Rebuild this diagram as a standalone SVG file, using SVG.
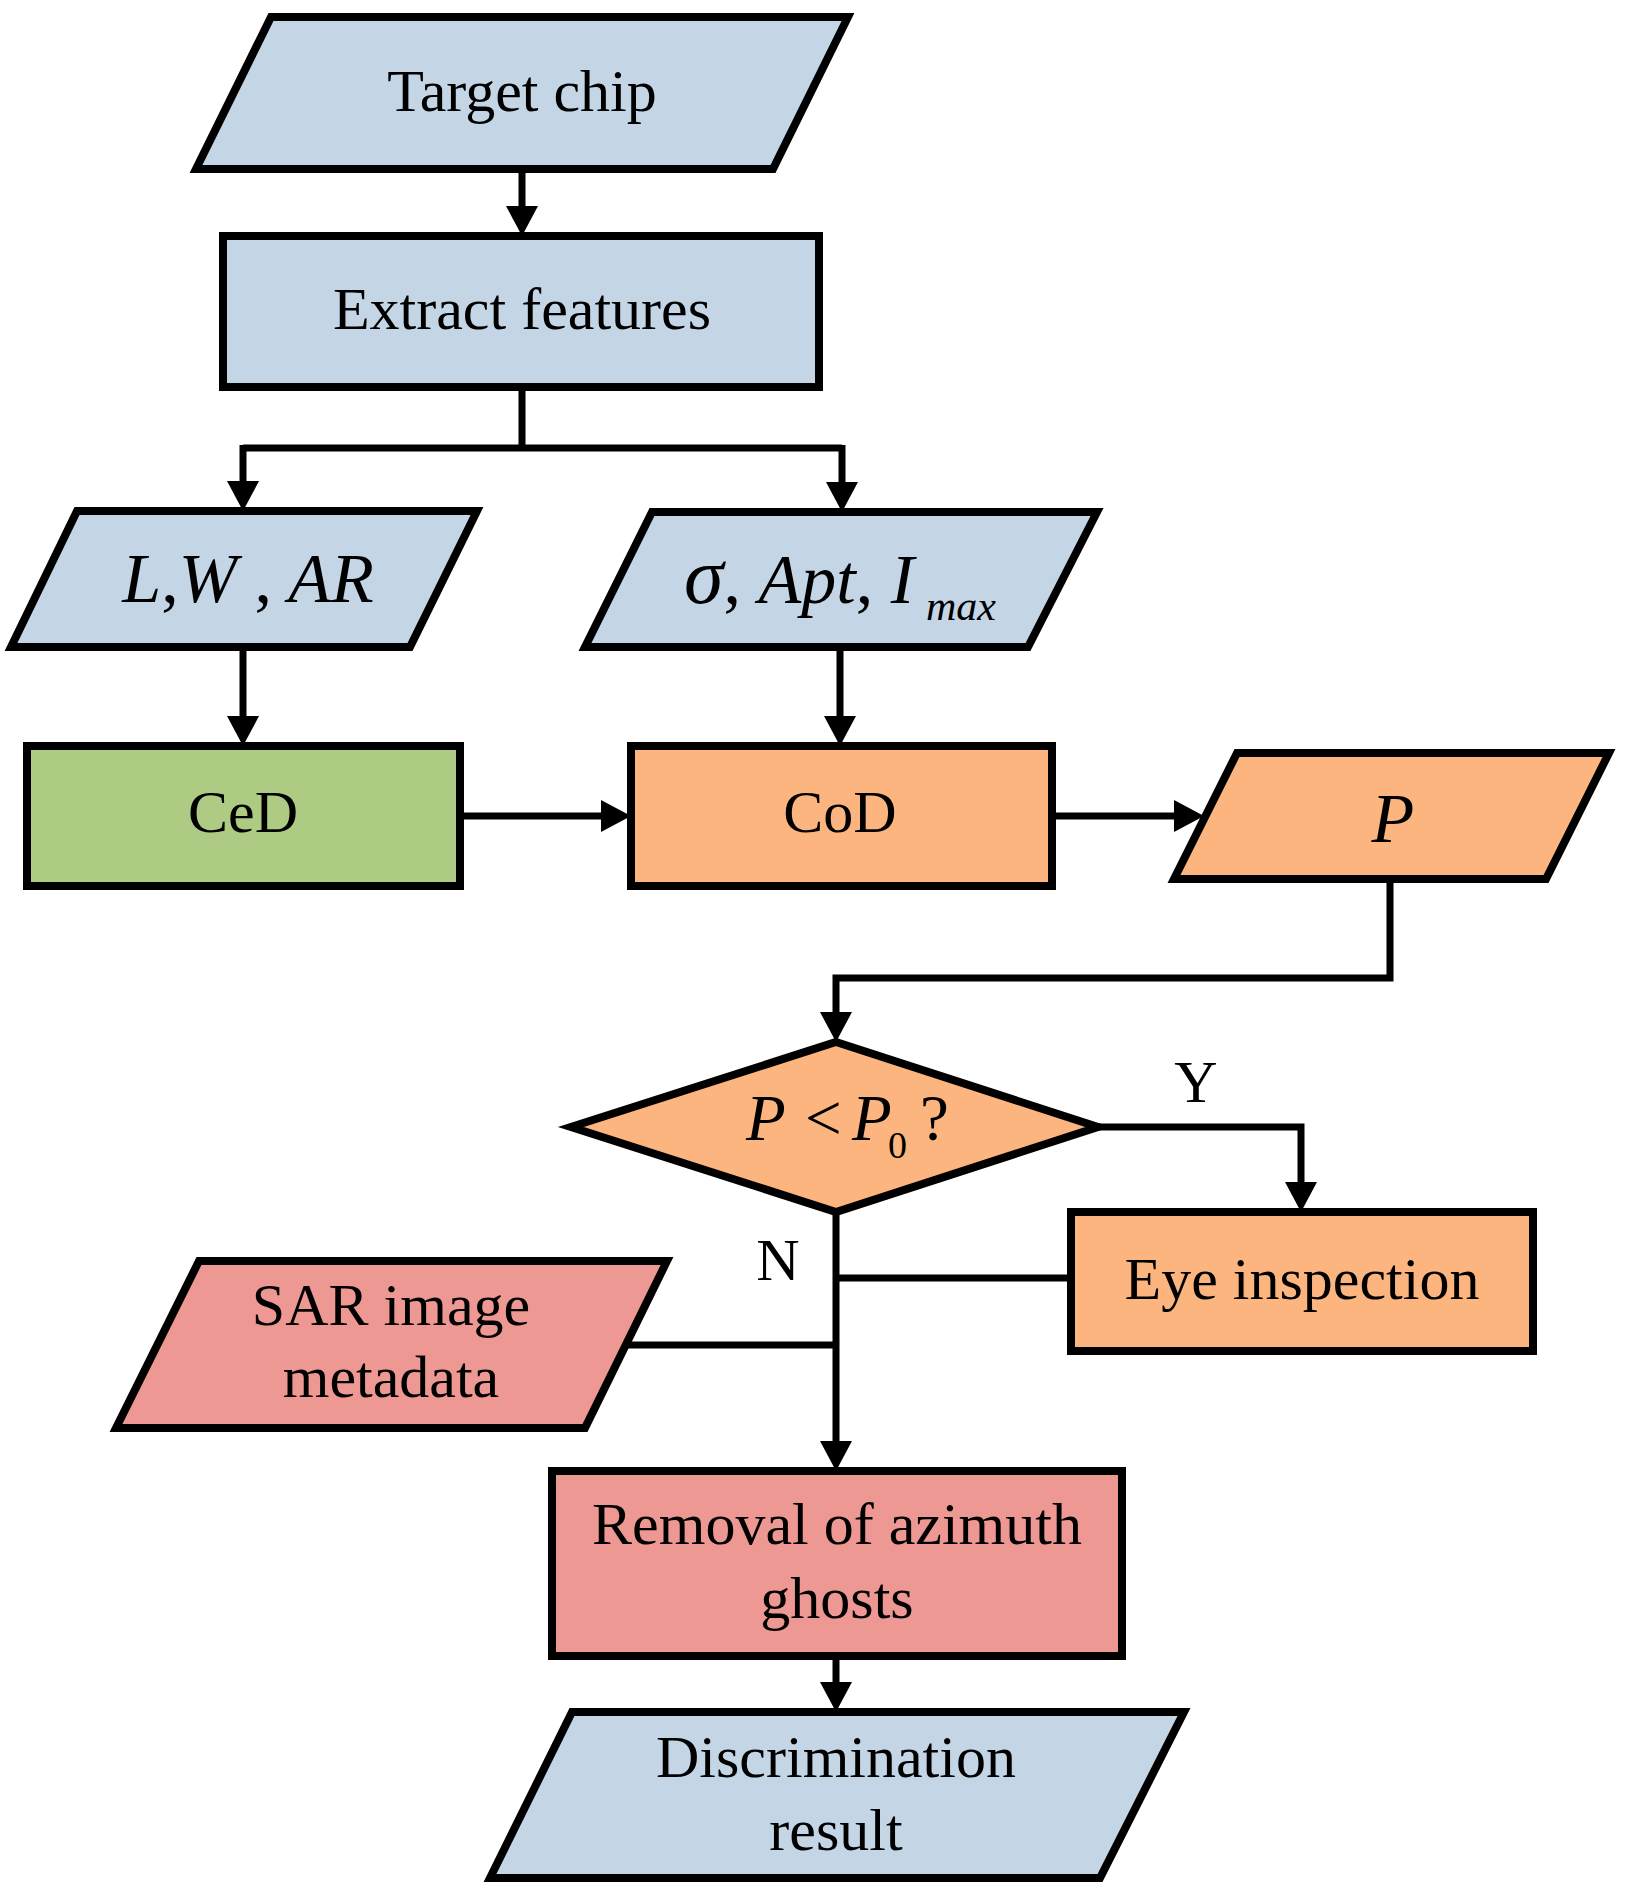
<svg xmlns="http://www.w3.org/2000/svg" width="1626" height="1898" viewBox="0 0 1626 1898">
<style>
.shape{stroke:#000;stroke-width:8;stroke-linejoin:miter}
.blue{fill:#C4D6E6}
.green{fill:#AECB83}
.orange{fill:#FCB57E}
.pink{fill:#EE9893}
.conn{fill:none;stroke:#000;stroke-width:7}
text{font-family:"Liberation Serif","Times New Roman",serif;fill:#000}
.lbl{font-size:60px;text-anchor:middle}
.math{font-size:70px;font-style:italic}
.up{font-style:normal}
</style>
<defs>
<marker id="ah" markerUnits="userSpaceOnUse" markerWidth="32" markerHeight="34" refX="0" refY="16" orient="auto" overflow="visible">
<path d="M0,0 L30,16 L0,32 Z" fill="#000"/>
</marker>
</defs>
<rect width="1626" height="1898" fill="#fff"/>

<g id="connectors">
<path class="conn" d="M522,169 V206" marker-end="url(#ah)"/>
<path class="conn" d="M522,387 V448 M243,448 H842"/>
<path class="conn" d="M243,445 V481" marker-end="url(#ah)"/>
<path class="conn" d="M842,445 V482" marker-end="url(#ah)"/>
<path class="conn" d="M243,647 V716" marker-end="url(#ah)"/>
<path class="conn" d="M840,647 V716" marker-end="url(#ah)"/>
<path class="conn" d="M460,816 H601" marker-end="url(#ah)"/>
<path class="conn" d="M1052,816 H1174" marker-end="url(#ah)"/>
<path class="conn" d="M1390,879 V978 H836 V1012" marker-end="url(#ah)"/>
<path class="conn" d="M1098,1127 H1301 V1182" marker-end="url(#ah)"/>
<path class="conn" d="M836,1212 V1441" marker-end="url(#ah)"/>
<path class="conn" d="M836,1278 H1071"/>
<path class="conn" d="M628,1345 H836"/>
<path class="conn" d="M836,1656 V1682" marker-end="url(#ah)"/>
<text class="lbl" x="1196" y="1102">Y</text>
<text class="lbl" x="778" y="1280">N</text>
</g>

<g id="target-chip">
<polygon class="shape blue" points="271,17 848,17 773,169 196,169"/>
<text class="lbl" x="522" y="111">Target chip</text>
</g>

<g id="extract-features">
<rect class="shape blue" x="223" y="236" width="596" height="151"/>
<text class="lbl" x="522" y="329">Extract features</text>
</g>

<g id="lwar">
<polygon class="shape blue" points="77,511 477,511 410,647 11,647"/>
<text class="math" x="248" y="602" text-anchor="middle">L<tspan class="up">,</tspan>W <tspan class="up">,</tspan> AR</text>
</g>

<g id="sigma-apt-imax">
<polygon class="shape blue" points="652,512 1097,512 1028,647 585,647"/>
<text class="math" x="684" y="603"><tspan font-size="80">σ</tspan><tspan class="up">, </tspan>Apt<tspan class="up">, </tspan>I<tspan font-size="42" dx="12" dy="17">max</tspan></text>
</g>

<g id="ced">
<rect class="shape green" x="27" y="746" width="433" height="140"/>
<text class="lbl" x="243" y="832">CeD</text>
</g>

<g id="cod">
<rect class="shape orange" x="631" y="746" width="421" height="140"/>
<text class="lbl" x="840" y="832">CoD</text>
</g>

<g id="p-output">
<polygon class="shape orange" points="1237,753 1609,753 1546,879 1174,879"/>
<text class="math" x="1393" y="842" text-anchor="middle">P</text>
</g>

<g id="decision">
<polygon class="shape orange" points="836,1042 1098,1127 836,1212 571,1127"/>
<text style="font-size:65px"><tspan x="746" y="1140" font-style="italic">P</tspan><tspan x="805" y="1140">&lt;</tspan><tspan x="852" y="1140" font-style="italic">P</tspan><tspan x="888" y="1158" font-size="38">0</tspan><tspan x="920" y="1140">?</tspan></text>
</g>

<g id="eye-inspection">
<rect class="shape orange" x="1071" y="1212" width="462" height="139"/>
<text class="lbl" x="1302" y="1299">Eye inspection</text>
</g>

<g id="sar-metadata">
<polygon class="shape pink" points="199,1261 667,1261 585,1428 116,1428"/>
<text class="lbl" x="391" y="1325">SAR image</text>
<text class="lbl" x="391" y="1397">metadata</text>
</g>

<g id="removal">
<rect class="shape pink" x="552" y="1471" width="570" height="185"/>
<text class="lbl" x="837" y="1544">Removal of azimuth</text>
<text class="lbl" x="837" y="1618">ghosts</text>
</g>

<g id="discrimination">
<polygon class="shape blue" points="572,1712 1184,1712 1100,1878 490,1878"/>
<text class="lbl" x="836" y="1777">Discrimination</text>
<text class="lbl" x="836" y="1850">result</text>
</g>
</svg>
